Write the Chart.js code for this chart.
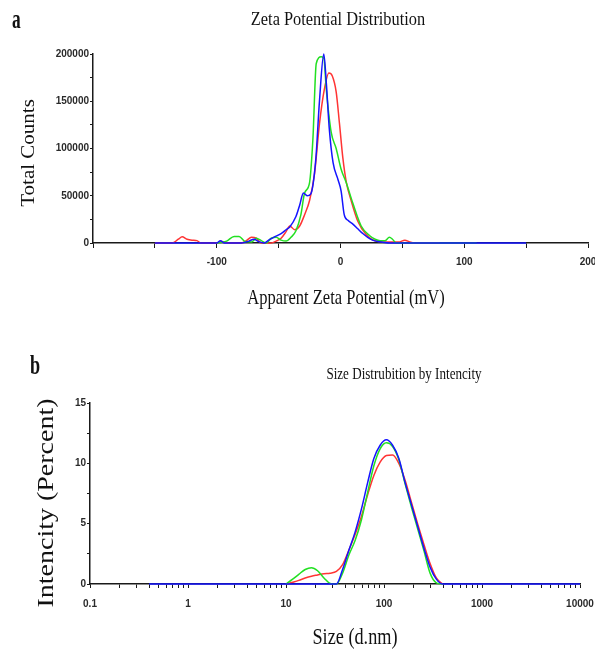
<!DOCTYPE html>
<html><head><meta charset="utf-8">
<script src="https://cdn.jsdelivr.net/npm/chart.js@4.4.0/dist/chart.umd.min.js"></script>
<style>
html,body{margin:0;padding:0;background:#fff;}
#wrap{position:relative;width:595px;height:650px;overflow:hidden;}
.box{position:absolute;left:0;width:595px;}
</style></head><body>
<div id="wrap">
<div class="box" style="top:0;height:320px"><canvas id="c1" width="595" height="320"></canvas></div>
<div class="box" style="top:320px;height:330px"><canvas id="c2" width="595" height="330"></canvas></div>
</div>
<script>
// ---------- Panel a: Zeta potential distribution ----------
const zetaBlueMv = [-150,-100,-97,-94,-80,-74,-70,-66,-62,-58,-54,-48,-44,-41,-36,-33,-30,-27,-24,-20,-17,-13.5,-11.5,-9,-6,-2,0.5,3,6,10,14,18,22,26,30,34,40,150];
const zetaBlueCounts = [0,0,2500,0,0,2000,4000,1500,0,3000,6000,10000,14000,17000,28000,40000,53000,50000,52000,88000,150000,200000,170000,120000,85000,67000,55000,30000,24000,20000,15000,10000,6000,3000,1500,800,0,0];
const zetaGreenMv = [-100,-92,-86,-82,-77,-72,-68,-64,-60,-56,-52,-48,-44,-40,-36,-32,-29,-25,-22.3,-19.6,-15.6,-13.4,-11.5,-7.5,-3.5,0.5,4.6,10,16.7,23.4,28,32,36,39.5,42,45,110];
const zetaGreenCounts = [0,2000,7000,7000,1500,1000,5000,2500,0,5000,6000,3000,2000,6000,13000,30000,53000,64000,110000,190000,197000,195000,163000,117000,100000,78000,64000,42000,18000,8000,4000,2500,2500,6000,4000,0,0];
const zetaRedMv = [-150,-145,-136,-131,-128,-124,-120,-116,-113,-100,-96,-90,-80,-76,-72,-68,-64,-56,-52,-48,-44,-41,-37,-33,-29,-25,-21,-17,-13,-9.4,-6.7,-3.5,-0.8,1.9,4.6,8.6,14,20.7,28.8,40,47,52,56,60,75,80];
const zetaRedCounts = [0,0,0,4000,6500,4000,3000,2500,0,0,1500,0,0,2500,6000,5000,0,0,2000,5000,12000,18000,14000,18000,30000,45000,73000,126000,163000,180000,177000,160000,126000,90000,65000,45000,23000,9000,2000,1000,1000,3000,1000,0,0,0];
const zetaXLabels = [-100, 0, 100, 200];
const zetaYLabels = [0, 50000, 100000, 150000, 200000];

// ---------- Panel b: Size distribution by intensity ----------
const sizeNm = [0.4,10,11.7,13.5,15.7,18.2,21.0,24.4,28.2,32.7,37.8,43.8,50.7,58.8,68.1,78.8,91.3,105.7,122.4,141.8,164.2,190.1,220.2,255.0,295.3,342.0,396.1,10000];
const intBlue  = [0,0,0,0,0,0,0,0,0,0,1.2,2.8,4.3,6.2,8.4,10.4,11.5,11.95,11.5,10.4,8.4,6.6,4.8,3.0,1.4,0.4,0,0];
const intGreen = [null,0,0.4,0.8,1.2,1.35,1.1,0.5,0.05,0,0.9,2.4,3.6,5.3,7.6,9.8,11.2,11.7,11.4,10.3,8.3,6.4,4.6,2.8,0.9,0.1,0,null];
const intRed   = [null,0,0.15,0.3,0.5,0.65,0.75,0.85,0.9,1.05,1.6,2.8,4.1,5.6,7.4,9.0,10.1,10.65,10.7,10.0,8.6,6.8,5.0,3.3,1.7,0.5,0,null];
const sizeXLabels = [0.1, 1, 10, 100, 1000, 10000];
const sizeDecades = [0.1, 1, 10, 100, 1000];
const sizeYLabels = [0, 5, 10, 15];

const BLUE = '#1414ff', GREEN = '#22e022', RED = '#ff3434', AXIS = '#1a1a1a';
const SERIF = "'Liberation Serif', 'Times New Roman', serif";
const SANS = "'Liberation Sans', Arial, sans-serif";

function pts(xs, ys) { return xs.map((x, i) => ({x: x, y: ys[i]})); }
function ds(data, color) {
  return {data: data, borderColor: color, backgroundColor: color, borderWidth: 1.5,
    pointRadius: 0, showLine: true, fill: false, cubicInterpolationMode: 'monotone', clip: 4, spanGaps: false};
}

const textPlugin = {
  id: 'panelText',
  afterDraw(chart, args, opts) {
    const ctx = chart.ctx;
    (opts.items || []).forEach(it => {
      ctx.save();
      ctx.translate(it.x, it.y);
      if (it.rotate) ctx.rotate(it.rotate);
      ctx.scale(it.sx || 1, it.sy || 1);
      ctx.font = it.font;
      ctx.fillStyle = it.color || '#111';
      ctx.textAlign = it.align || 'center';
      ctx.textBaseline = it.baseline || 'middle';
      ctx.fillText(it.text, 0, 0);
      ctx.restore();
    });
  }
};

function axisGrid(len) {
  return {display: true, drawOnChartArea: false, drawTicks: true, tickLength: len, color: AXIS, lineWidth: 1};
}
const tickFont = {family: SANS, size: 10, weight: 'bold'};
const TICKCOL = '#2a2a2a';

// ---------- Chart a ----------
new Chart(document.getElementById('c1'), {
  type: 'scatter',
  data: {datasets: [
    ds(pts(zetaBlueMv, zetaBlueCounts), BLUE),
    ds(pts(zetaGreenMv, zetaGreenCounts), GREEN),
    ds(pts(zetaRedMv, zetaRedCounts), RED)
  ]},
  options: {
    responsive: false, animation: false, devicePixelRatio: 1,
    layout: {padding: {top: 54, right: 7, bottom: 0, left: 0}},
    plugins: {
      legend: {display: false}, tooltip: {enabled: false}, title: {display: false},
      panelText: {items: [
        {text: 'a', x: 12, y: 28, font: 'bold 28px ' + SERIF, sx: 0.62, align: 'left', baseline: 'alphabetic'},
        {text: 'Zeta Potential Distribution', x: 338, y: 20, font: '19px ' + SERIF, sx: 0.86},
        {text: 'Apparent Zeta Potential (mV)', x: 346, y: 298, font: '22px ' + SERIF, sx: 0.75},
        {text: 'Total Counts', x: 29, y: 153, font: '21px ' + SERIF, rotate: -Math.PI / 2, sy: 0.9}
      ]}
    },
    scales: {
      x: {
        type: 'linear', min: -200, max: 200,
        ticks: {stepSize: 50, autoSkip: false, maxRotation: 0, color: TICKCOL, font: tickFont, padding: 8,
          callback: v => zetaXLabels.includes(v) ? String(v) : ''},
        grid: axisGrid(5), border: {display: true, color: AXIS, width: 1.5},
        afterFit: s => { s.height = 77; s.paddingLeft = 0; s.paddingRight = 0; }
      },
      y: {
        min: 0, max: 200000,
        ticks: {stepSize: 25000, autoSkip: false, color: TICKCOL, font: tickFont, padding: 1,
          callback: v => zetaYLabels.includes(v) ? String(v) : ''},
        grid: axisGrid(3), border: {display: true, color: AXIS, width: 1.5},
        afterFit: s => { s.width = 93; s.paddingTop = 0; s.paddingBottom = 0; }
      }
    }
  },
  plugins: [textPlugin]
});

// ---------- Chart b ----------
const logTicks = [];
sizeDecades.forEach(d => { for (let m = 1; m <= 9; m++) logTicks.push(m * d); });
logTicks.push(10000);

new Chart(document.getElementById('c2'), {
  type: 'scatter',
  data: {datasets: [
    ds(pts(sizeNm, intBlue), BLUE),
    ds(pts(sizeNm, intGreen), GREEN),
    ds(pts(sizeNm, intRed), RED)
  ]},
  options: {
    responsive: false, animation: false, devicePixelRatio: 1,
    layout: {padding: {top: 83, right: 15, bottom: 0, left: 0}},
    plugins: {
      legend: {display: false}, tooltip: {enabled: false}, title: {display: false},
      panelText: {items: [
        {text: 'b', x: 30, y: 54, font: 'bold 28px ' + SERIF, sx: 0.65, align: 'left', baseline: 'alphabetic'},
        {text: 'Size Distrubition by Intencity', x: 404, y: 55, font: '17px ' + SERIF, sx: 0.77},
        {text: 'Size (d.nm)', x: 355, y: 318, font: '24px ' + SERIF, sx: 0.76},
        {text: 'Intencity (Percent)', x: 47, y: 183, font: '28px ' + SERIF, rotate: -Math.PI / 2, sy: 0.8}
      ]}
    },
    scales: {
      x: {
        type: 'logarithmic', min: 0.1, max: 10000,
        afterBuildTicks: s => { s.ticks = logTicks.map(v => ({value: v})); },
        ticks: {autoSkip: false, maxRotation: 0, color: TICKCOL, font: tickFont, padding: 10,
          callback: v => sizeXLabels.includes(v) ? String(v) : ''},
        grid: axisGrid(4), border: {display: true, color: AXIS, width: 1.5},
        afterFit: s => { s.height = 66; s.paddingLeft = 0; s.paddingRight = 0; }
      },
      y: {
        min: 0, max: 15,
        ticks: {stepSize: 2.5, autoSkip: false, color: TICKCOL, font: tickFont, padding: 1,
          callback: v => sizeYLabels.includes(v) ? String(v) : ''},
        grid: axisGrid(3), border: {display: true, color: AXIS, width: 1.5},
        afterFit: s => { s.width = 90; s.paddingTop = 0; s.paddingBottom = 0; }
      }
    }
  },
  plugins: [textPlugin]
});
</script>
</body></html>
